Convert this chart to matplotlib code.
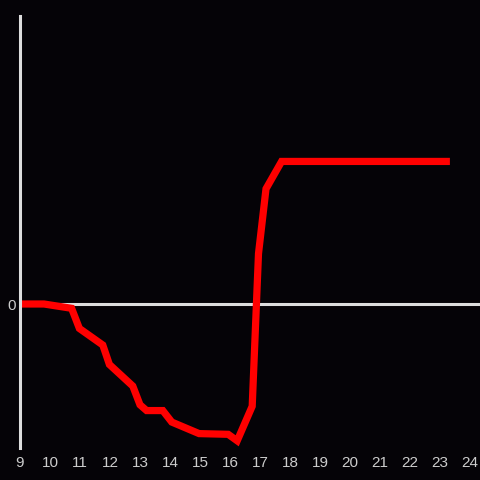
import matplotlib
matplotlib.use('Agg')
import matplotlib.pyplot as plt

# data
hours = [9.0, 9.8, 10.72, 10.98, 11.76, 11.98, 12.76, 13.0, 13.22, 13.76, 14.06,
         14.97, 15.94, 16.24, 16.74, 16.95, 17.2, 17.72, 23.33]
values = [0.0, 0.0, -0.03, -0.17, -0.285, -0.42, -0.57, -0.70, -0.74, -0.74, -0.82,
          -0.90, -0.905, -0.95, -0.71, 0.35, 0.80, 0.99, 0.99]
x_ticks = list(range(9, 25))
y_ticks = [0]

bg = '#050307'
fg = '#dddddd'

fig = plt.figure(figsize=(4.8, 4.8), dpi=100, facecolor=bg)
ax = fig.add_axes([20 / 480, 32 / 480, 460 / 480, 432 / 480], facecolor=bg)

ax.axhline(0, color=fg, lw=2.2, zorder=1)
ax.plot(hours, values, color='#ff0000', lw=5.2, solid_joinstyle='miter',
        solid_capstyle='butt', zorder=2)

ax.set_xlim(9, 9 + 460 / 30)
ax.set_ylim(-1, 2)
ax.set_xticks(x_ticks)
ax.set_yticks(y_ticks)

for s in ['top', 'right', 'bottom']:
    ax.spines[s].set_visible(False)
ax.spines['left'].set_color(fg)
ax.spines['left'].set_linewidth(2.2)

ax.tick_params(length=0, colors='#cccccc', labelsize=11, pad=6)
ax.tick_params(axis='y', pad=3)
for lab in ax.get_xticklabels() + ax.get_yticklabels():
    lab.set_family('Liberation Sans')

fig.savefig('out.png', dpi=100, facecolor=bg)
